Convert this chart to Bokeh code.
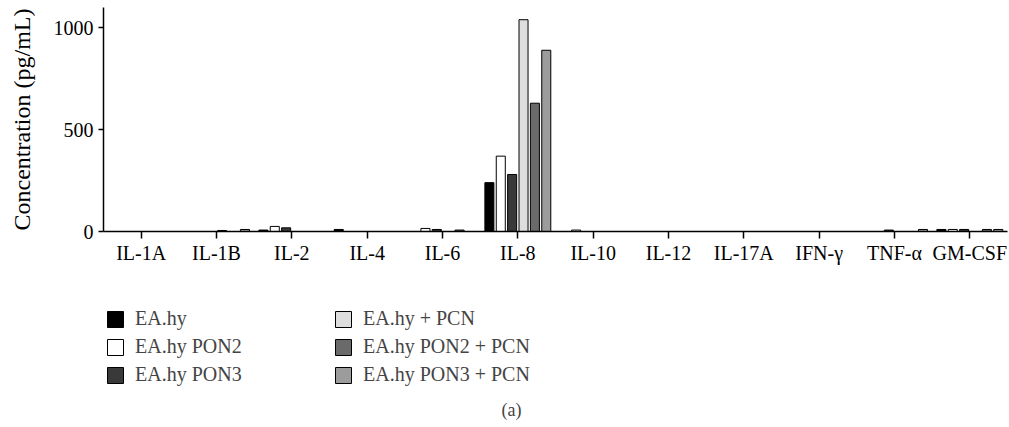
from bokeh.plotting import figure
from bokeh.layouts import column
from bokeh.models import (ColumnDataSource, FactorRange, Range1d, FixedTicker,
                          Legend, LegendItem, Label)
from bokeh.transform import dodge
from bokeh.embed import file_html
from bokeh.resources import INLINE

cytokines = ["IL-1A", "IL-1B", "IL-2", "IL-4", "IL-6", "IL-8",
             "IL-10", "IL-12", "IL-17A", "IFN-γ", "TNF-α", "GM-CSF"]
series_names = ["EA.hy", "EA.hy PON2", "EA.hy PON3",
                "EA.hy + PCN", "EA.hy PON2 + PCN", "EA.hy PON3 + PCN"]
ea_hy = [0, 0, 7, 10, 0, 240, 0, 0, 0, 0, 0, 10]
ea_hy_pon2 = [0, 0, 25, 0, 15, 370, 7, 0, 0, 0, 0, 10]
ea_hy_pon3 = [0, 0, 18, 0, 10, 280, 0, 0, 0, 0, 7, 10]
ea_hy_pcn = [0, 5, 0, 0, 0, 1040, 0, 0, 0, 0, 0, 0]
ea_hy_pon2_pcn = [0, 0, 0, 0, 7, 630, 0, 0, 0, 0, 0, 10]
ea_hy_pon3_pcn = [0, 10, 0, 0, 0, 890, 0, 0, 0, 0, 10, 10]
series_values = [ea_hy, ea_hy_pon2, ea_hy_pon3, ea_hy_pcn, ea_hy_pon2_pcn, ea_hy_pon3_pcn]
colors = ["#000000", "#ffffff", "#393939", "#dedede", "#6a6a6a", "#9c9c9c"]
y_ticks = [0, 500, 1000]

FONT = "Liberation Serif"

data = {"cyt": cytokines}
for i, vals in enumerate(series_values):
    data["s%d" % i] = vals
src = ColumnDataSource(data)

xr = FactorRange(factors=cytokines, range_padding=0)
p = figure(width=1009, height=270, x_range=xr,
           y_range=Range1d(0, 1100), output_backend="svg", toolbar_location=None,
           min_border_left=103, min_border_right=2, min_border_top=7,
           min_border_bottom=39)
p.outline_line_color = None
p.xgrid.grid_line_color = None
p.ygrid.grid_line_color = None

pitch = 0.151
for i in range(6):
    p.vbar(x=dodge("cyt", (i - 2.5) * pitch, range=xr), top="s%d" % i,
           width=0.12, source=src, fill_color=colors[i], line_color="#000000",
           line_width=1)

# axes
p.yaxis.ticker = FixedTicker(ticks=y_ticks)
p.yaxis.minor_tick_line_color = None
p.yaxis.major_tick_out = 5
p.yaxis.major_tick_in = 0
p.yaxis.axis_line_width = 1.5
p.yaxis.major_tick_line_width = 1.5
p.yaxis.axis_label = "Concentration (pg/mL)"
p.yaxis.axis_label_text_font = FONT
p.yaxis.axis_label_text_font_style = "normal"
p.yaxis.axis_label_text_font_size = "24px"
p.yaxis.major_label_text_font = FONT
p.yaxis.major_label_text_font_size = "20px"
p.yaxis.major_label_standoff = 5
p.yaxis.axis_label_standoff = 16

p.xaxis.major_tick_out = 7
p.xaxis.major_tick_in = 0
p.xaxis.axis_line_width = 1.5
p.xaxis.major_tick_line_width = 1.5
p.xaxis.major_label_text_font = FONT
p.xaxis.major_label_text_font_size = "20px"
p.xaxis.major_label_standoff = 3

for ax in (p.xaxis[0], p.yaxis[0]):
    ax.axis_line_color = "#000000"
    ax.major_tick_line_color = "#000000"
    ax.major_label_text_color = "#000000"
    ax.axis_label_text_color = "#000000"

# legend panel (its bars lie outside its visible y range; only the legend shows)
q = figure(width=1009, height=157, x_range=xr, y_range=Range1d(5000, 6000),
           output_backend="svg", toolbar_location=None,
           x_axis_type=None, y_axis_type=None,
           min_border_left=0, min_border_right=0, min_border_top=0, min_border_bottom=0)
q.outline_line_color = None
q.xgrid.grid_line_color = None
q.ygrid.grid_line_color = None

proxies = []
for i in range(6):
    r = q.vbar(x=dodge("cyt", (i - 2.5) * pitch, range=xr), top="s%d" % i,
               width=0.12, source=src, fill_color=colors[i], line_color="#000000",
               line_width=1)
    proxies.append(r)


def make_legend(idxs, x, y):
    items = [LegendItem(label=series_names[i], renderers=[proxies[i]]) for i in idxs]
    return Legend(items=items, location=(x, y), orientation="vertical",
                  glyph_width=20, glyph_height=20, label_standoff=10,
                  label_text_font=FONT, label_text_font_size="20px",
                  label_height=18, spacing=5, padding=0, margin=0,
                  border_line_color=None, background_fill_alpha=0)


q.add_layout(make_legend([0, 1, 2], 2, 41))
q.add_layout(make_legend([3, 4, 5], 230, 41))

q.add_layout(Label(x=408, y=18, x_units="screen", y_units="screen", text="(a)",
                   text_font=FONT, text_font_size="18px", text_align="center",
                   text_baseline="middle"))

layout = column(p, q, spacing=0)
open("out.html", "w").write(file_html(layout, INLINE))
